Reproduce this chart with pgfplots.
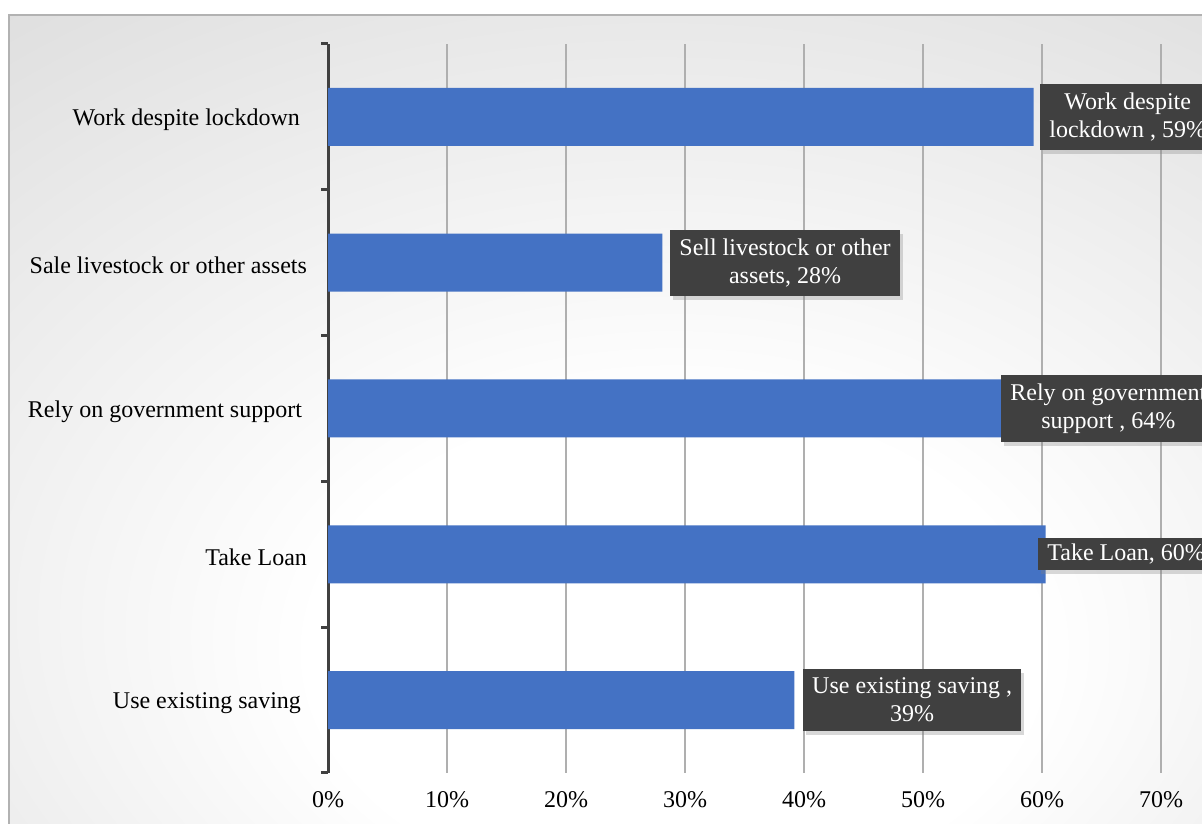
\documentclass[border=0pt]{standalone}
\usepackage{fontspec}
\setmainfont{Liberation Serif}
\usepackage{pgfplots}
\pgfplotsset{compat=1.18}
\usetikzlibrary{shadows}
\definecolor{barblue}{RGB}{68,114,196}
\definecolor{boxgray}{RGB}{64,64,64}
\definecolor{axgray}{RGB}{64,64,64}
\definecolor{gridgray}{RGB}{175,175,175}
\pgfdeclareradialshading{bgshade}{\pgfpoint{3bp}{-17bp}}{color(0bp)=(white); color(15bp)=(white); color(35bp)=(black!9); color(55bp)=(black!18); color(85bp)=(black!24)}
\tikzset{lab/.style={fill=boxgray, text=white, font=\fontsize{12}{14}\selectfont, align=center, inner xsep=4.5pt, inner ysep=4.5pt, anchor=west, drop shadow={shadow xshift=1.5pt, shadow yshift=-2pt, opacity=0.3}}}
\begin{document}
\begin{tikzpicture}[x=1pt,y=1pt]
\useasboundingbox (0,0) rectangle (601,411.5);
\clip (0,0) rectangle (601,411.5);
\fill[white] (0,0) rectangle (601,411.5);
\shade[shading=bgshade] (4.5,-5) rectangle (610,404);
\draw[black!30, line width=0.8pt] (4.5,-5) rectangle (610,404);
\begin{axis}[
  at={(164pt,25pt)}, anchor=origin,
  scale only axis, width=446.25pt, height=364.5pt,
  xmin=0, xmax=0.75, ymin=0, ymax=5,
  xbar, bar width=29pt, clip=false,
  axis lines*=left,
  x axis line style={draw=none},
  y axis line style={line width=1.5pt, color=axgray},
  xtick={0,0.1,0.2,0.3,0.4,0.5,0.6,0.7},
  xticklabels={0\%,10\%,20\%,30\%,40\%,50\%,60\%,70\%},
  xmajorgrids, grid style={gridgray, line width=0.55pt},
  major tick length=0pt,
  ytick={0.5,1.5,2.5,3.5,4.5},
  yticklabels={Use existing saving\rule{3pt}{0pt}, Take Loan, Rely on government support\rule{2.5pt}{0pt}, Sale livestock or other assets, Work despite lockdown\rule{3.5pt}{0pt}},
  extra y ticks={0,1,2,3,4,5},
  extra y tick labels={},
  extra y tick style={major tick length=3.5pt, tick align=outside, tick style={line width=1.5pt, color=axgray}},
  tick label style={font=\fontsize{12}{14}\selectfont, text=black},
  yticklabel style={xshift=-7pt, yshift=-1.5pt},
  xticklabel style={yshift=-5.5pt},
]
\addplot[fill=barblue, draw=none] coordinates {(0.392,0.5) (0.603,1.5) (0.64,2.5) (0.281,3.5) (0.593,4.5)};
\node[lab] at (axis cs:0.5983,4.5) {Work despite\\lockdown , 59\%};
\node[lab] at (axis cs:0.2874,3.5) {Sell livestock or other\\assets, 28\%};
\node[lab] at (axis cs:0.5655,2.5) {Rely on government\\support , 64\%};
\node[lab, inner ysep=3pt] at (axis cs:0.5966,1.5) {Take Loan, 60\%};
\node[lab] at (axis cs:0.399,0.5) {Use existing saving ,\\39\%};
\end{axis}
\end{tikzpicture}
\end{document}
